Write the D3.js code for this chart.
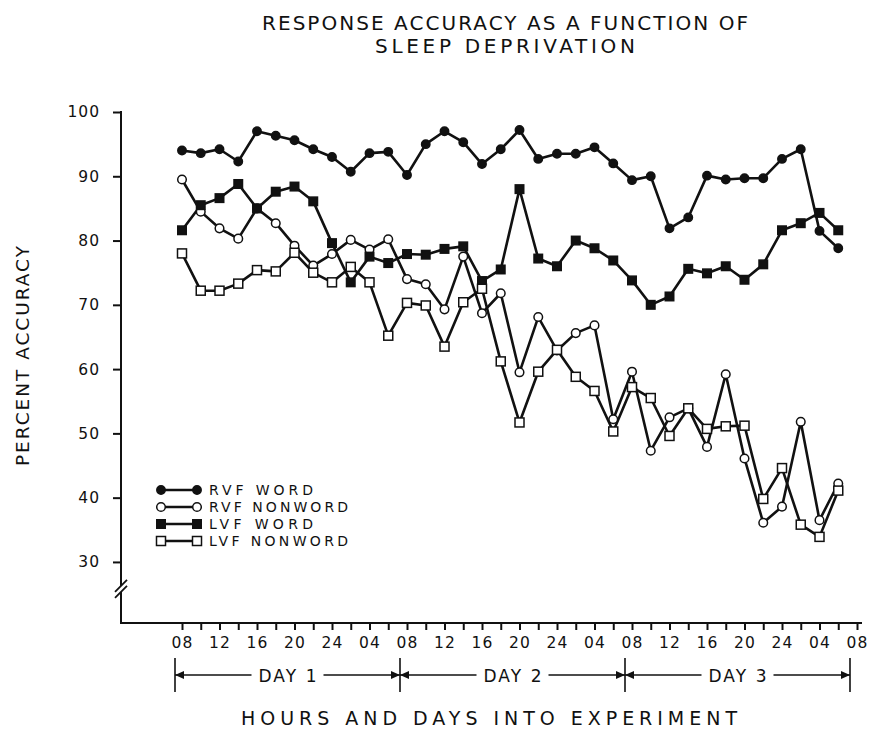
<!DOCTYPE html>
<html><head><meta charset="utf-8">
<script src="https://cdn.jsdelivr.net/npm/d3@7"></script>
<style>body{margin:0;background:#fff}svg{display:block}text{font-family:"DejaVu Sans",sans-serif;fill:#111}</style>
</head><body>
<script>
// ---- data ----
const hourOffsets = [0,2,4,6,8,10,12,14,16,18,20,22,24,26,28,30,32,34,36,38,40,42,44,46,48,50,52,54,56,58,60,62,64,66,68,70];
const rvfWord = [94.0,93.6,94.2,92.3,97.0,96.3,95.6,94.2,93.0,90.7,93.6,93.8,90.2,95.0,97.0,95.3,91.9,94.2,97.2,92.7,93.5,93.5,94.5,92.0,89.4,90.0,81.9,83.6,90.1,89.5,89.7,89.7,92.7,94.2,81.5,78.8];
const rvfNonword = [89.5,84.5,81.9,80.3,85.0,82.7,79.2,76.1,77.9,80.1,78.6,80.2,74.0,73.2,69.3,77.5,68.7,71.8,59.5,68.1,62.9,65.6,66.8,52.2,59.6,47.3,52.5,53.9,47.9,59.2,46.1,36.1,38.6,51.8,36.5,42.2];
const lvfWord = [81.6,85.5,86.6,88.8,85.0,87.6,88.4,86.1,79.6,73.5,77.5,76.5,77.9,77.8,78.7,79.1,73.7,75.5,88.0,77.2,76.0,80.0,78.8,76.9,73.8,70.0,71.3,75.6,74.9,76.0,73.9,76.3,81.6,82.7,84.3,81.6];
const lvfNonword = [78.0,72.2,72.2,73.3,75.4,75.2,78.1,75.0,73.5,75.9,73.5,65.2,70.3,69.9,63.5,70.4,72.5,61.2,51.7,59.6,63.0,58.8,56.6,50.3,57.2,55.5,49.6,53.9,50.7,51.1,51.2,39.8,44.6,35.8,33.9,41.1];
const seriesNames = ["RVF WORD","RVF NONWORD","LVF WORD","LVF NONWORD"];
const xTickHours = [0,2,4,6,8,10,12,14,16,18,20,22,24,26,28,30,32,34,36,38,40,42,44,46,48,50,52,54,56,58,60,62,64,66,68,70,72];
const xLabelHours = [0,4,8,12,16,20,24,28,32,36,40,44,48,52,56,60,64,68,72];
const xTickLabels = ["08","12","16","20","24","04","08","12","16","20","24","04","08","12","16","20","24","04","08"];
const yTicks = [30,40,50,60,70,80,90,100];
const dayNames = ["DAY 1","DAY 2","DAY 3"];
const dayBounds = [0,24,48,72];

const W = 875, H = 738;
const svg = d3.select("body").append("svg").attr("width", W).attr("height", H);

const x = d3.scaleLinear().domain([0,72]).range([182,857]);
const y = d3.scaleLinear().domain([20.5,100]).range([623,112]);
const axisX0 = 121, axisY0 = y(20.5);

function fitText(sel, len){ sel.attr("textLength", len).attr("lengthAdjust","spacing"); return sel; }

// ---- title ----
fitText(svg.append("text").attr("x",505).attr("y",30).attr("text-anchor","middle").attr("font-size",20).text("RESPONSE ACCURACY AS A FUNCTION OF"),486);
fitText(svg.append("text").attr("x",505).attr("y",53).attr("text-anchor","middle").attr("font-size",20).text("SLEEP DEPRIVATION"),260);

// ---- y axis ----
const yAxis = d3.axisLeft(y).tickValues(yTicks).tickSize(8).tickPadding(13).tickFormat(d3.format("d"));
const gy = svg.append("g").attr("transform",`translate(${axisX0},0)`).call(yAxis);
gy.select(".domain").remove();
gy.selectAll(".tick line").attr("stroke","#111").attr("stroke-width",2);
gy.selectAll(".tick text").attr("font-size",15.5).attr("letter-spacing",1).attr("font-family","DejaVu Sans").attr("fill","#111");
svg.append("line").attr("x1",axisX0).attr("x2",axisX0).attr("y1",y(100)-1).attr("y2",axisY0+1).attr("stroke","#111").attr("stroke-width",2);
// axis break
const brY = y(25.8);
svg.append("rect").attr("x",axisX0-3).attr("y",brY-3).attr("width",6).attr("height",6).attr("fill","#fff");
[-3,3].forEach(o=>{
  svg.append("line").attr("x1",axisX0-6).attr("x2",axisX0+6).attr("y1",brY+o+6).attr("y2",brY+o-6).attr("stroke","#111").attr("stroke-width",1.8);
});

// ---- x axis ----
const labelMap = new Map(xLabelHours.map((h,i)=>[h,xTickLabels[i]]));
const xAxis = d3.axisBottom(x).tickValues(xTickHours).tickSize(7).tickPadding(7).tickFormat(h=>labelMap.has(h)?labelMap.get(h):"");
const gx = svg.append("g").attr("transform",`translate(0,${axisY0})`).call(xAxis);
gx.select(".domain").remove();
gx.selectAll(".tick line").attr("stroke","#111").attr("stroke-width",2);
gx.selectAll(".tick text").attr("font-size",15.5).attr("letter-spacing",1.2).attr("font-family","DejaVu Sans").attr("fill","#111");
svg.append("line").attr("x1",axisX0-1).attr("x2",862).attr("y1",axisY0).attr("y2",axisY0).attr("stroke","#111").attr("stroke-width",2);

// ---- day brackets ----
const dayY = 675, barOff = -7;
const dg = svg.append("g");
dayBounds.forEach(h=>{
  dg.append("line").attr("x1",x(h)+barOff).attr("x2",x(h)+barOff).attr("y1",658).attr("y2",692).attr("stroke","#111").attr("stroke-width",1.6);
});
dayNames.forEach((name,i)=>{
  const xa = x(dayBounds[i])+barOff, xb = x(dayBounds[i+1])+barOff, xm = (xa+xb)/2;
  const half = 36;
  dg.append("line").attr("x1",xa).attr("x2",xm-half).attr("y1",dayY).attr("y2",dayY).attr("stroke","#111").attr("stroke-width",1.4);
  dg.append("line").attr("x1",xm+half).attr("x2",xb).attr("y1",dayY).attr("y2",dayY).attr("stroke","#111").attr("stroke-width",1.4);
  dg.append("path").attr("d",`M${xa},${dayY}L${xa+9},${dayY-4}L${xa+9},${dayY+4}Z`).attr("fill","#111");
  dg.append("path").attr("d",`M${xb},${dayY}L${xb-9},${dayY-4}L${xb-9},${dayY+4}Z`).attr("fill","#111");
  fitText(dg.append("text").attr("x",xm).attr("y",dayY+6.5).attr("text-anchor","middle").attr("font-size",17).text(name),58);
});

// ---- axis titles ----
fitText(svg.append("text").attr("x",489).attr("y",725).attr("text-anchor","middle").attr("font-size",19).text("HOURS AND DAYS INTO EXPERIMENT"),496);
fitText(svg.append("text").attr("transform","translate(29,356) rotate(-90)").attr("text-anchor","middle").attr("font-size",18.5).text("PERCENT ACCURACY"),220);

// ---- series ----
const series = [
  {name:seriesNames[0], values:rvfWord, shape:"circle", fill:"#111"},
  {name:seriesNames[1], values:rvfNonword, shape:"circle", fill:"#fff"},
  {name:seriesNames[2], values:lvfWord, shape:"square", fill:"#111"},
  {name:seriesNames[3], values:lvfNonword, shape:"square", fill:"#fff"}
];
const line = d3.line().x(d=>x(d.h)).y(d=>y(d.v));
function drawMarker(g, cx, cy, s){
  if(s.shape==="circle"){
    g.append("circle").attr("cx",cx).attr("cy",cy).attr("r", s.fill==="#fff"?4.3:4.2).attr("fill",s.fill).attr("stroke","#111").attr("stroke-width",1.5);
  } else {
    const a = s.fill==="#fff"?9:8.5;
    g.append("rect").attr("x",cx-a/2).attr("y",cy-a/2).attr("width",a).attr("height",a).attr("fill",s.fill).attr("stroke","#111").attr("stroke-width",1.5);
  }
}
series.forEach(s=>{
  const pts = s.values.map((v,i)=>({h:hourOffsets[i], v}));
  svg.append("path").datum(pts).attr("d",line).attr("fill","none").attr("stroke","#111").attr("stroke-width",2.6).attr("stroke-linejoin","round");
});
series.forEach(s=>{
  const g = svg.append("g");
  s.values.forEach((v,i)=>drawMarker(g, x(hourOffsets[i]), y(v), s));
});

// ---- legend ----
const lg = svg.append("g");
const legRows = [490,507,524,541];
const legLens = [104,139,104,139];
series.forEach((s,i)=>{
  const ly = legRows[i];
  lg.append("line").attr("x1",161).attr("x2",197).attr("y1",ly).attr("y2",ly).attr("stroke","#111").attr("stroke-width",2.4);
  drawMarker(lg,161,ly,s); drawMarker(lg,197,ly,s);
  fitText(lg.append("text").attr("x",209).attr("y",ly+5).attr("font-size",14).text(s.name), legLens[i]);
});
</script>
</body></html>
